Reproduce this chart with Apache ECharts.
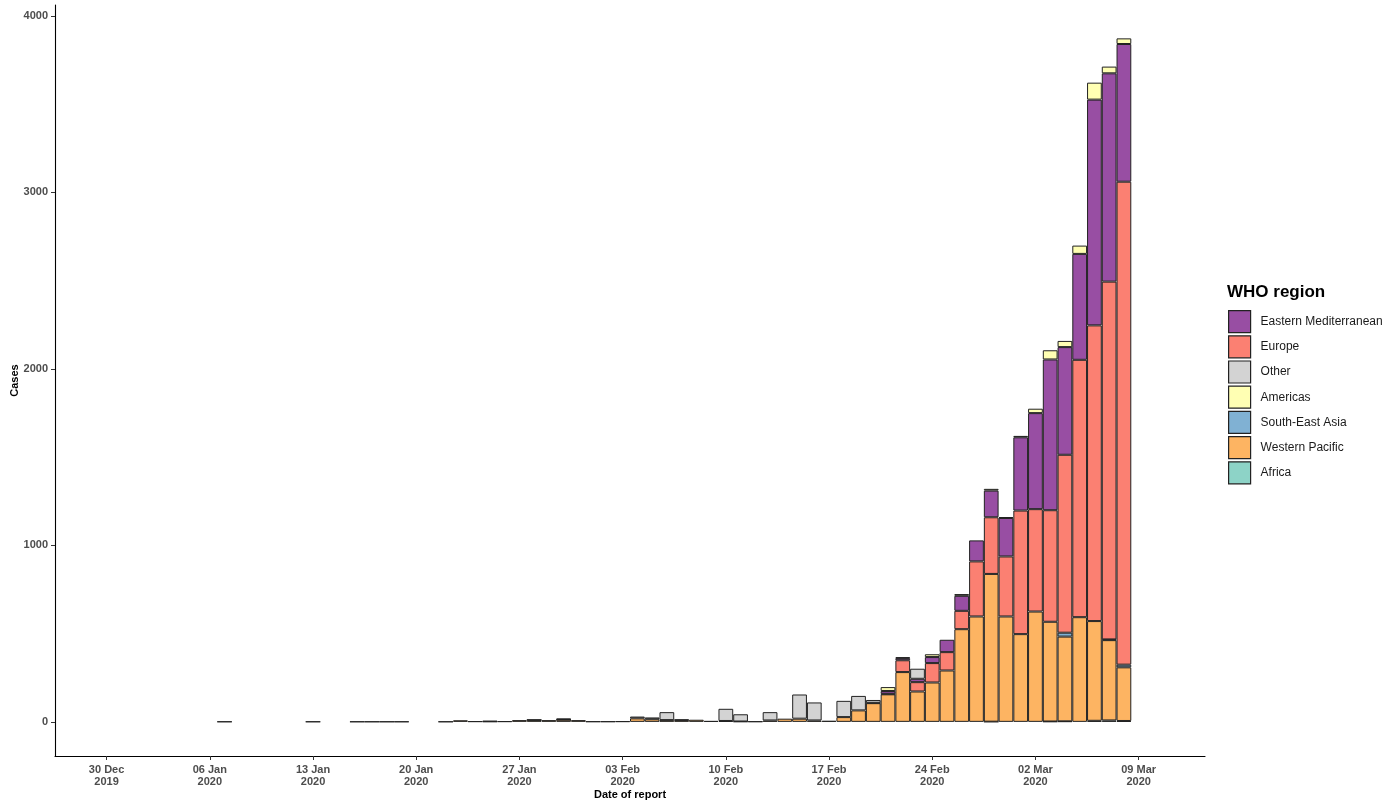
<!DOCTYPE html>
<html>
<head>
<meta charset="utf-8">
<script src="https://cdn.jsdelivr.net/npm/echarts@6/dist/echarts.min.js"></script>
<style>
html,body{margin:0;padding:0;background:#ffffff;}
#chart{width:1398px;height:800px;}
</style>
</head>
<body>
<div id="chart"></div>
<script>
// ---------- data ----------
const axisStartDate = '2019-12-27';   // first category on the x axis
const axisDayCount = 78;              // number of daily categories on the x axis
const firstTickDate = '2019-12-30';   // first labelled week
const firstDataDate = '2020-01-07';   // first day of the series arrays below

const tickLabels = ['30 Dec\n2019', '06 Jan\n2020', '13 Jan\n2020', '20 Jan\n2020', '27 Jan\n2020',
  '03 Feb\n2020', '10 Feb\n2020', '17 Feb\n2020', '24 Feb\n2020', '02 Mar\n2020', '09 Mar\n2020'];
const yTickValues = [0, 1000, 2000, 3000, 4000];

const legendOrder = ['Eastern Mediterranean', 'Europe', 'Other', 'Americas', 'South-East Asia', 'Western Pacific', 'Africa'];

// daily cases, 07 Jan 2020 .. 08 Mar 2020 (rows = weeks starting on Tuesday)
const westernPacific = [
  1, null, null, null, null, null, null,
  null, null, 1, 1, 1, 1, null,
  null, 1, 9, 3, 2, 3, 10,
  11, 10, 12, 10, 2, 2, 3,
  20, 15, 10, 10, 12, 5, 5,
  2, 2, 8, 18, 18, 8, 6,
  27, 65, 106, 156, 282, 172, 223,
  291, 525, 597, 837, 597, 497, 625,
  565, 480, 593, 565, 455, 304
];
const southEastAsia = [
  null, null, null, null, null, null, 1,
  null, null, null, null, null, null, null,
  null, null, null, null, null, null, null,
  null, null, 2, null, null, null, null,
  null, null, null, null, null, null, null,
  null, null, null, null, null, null, null,
  null, null, null, null, null, null, null,
  null, null, null, null, null, null, null,
  null, 22, null, null, 4, 15
];
const europe = [
  null, null, null, null, null, null, null,
  null, null, null, null, null, null, null,
  null, null, null, null, 3, null, null,
  1, null, 4, null, null, null, null,
  null, null, null, null, null, null, null,
  null, null, null, null, null, null, null,
  null, null, null, 3, 67, 53, 110,
  104, 104, 312, 321, 340, 700, 580,
  632, 1008, 1458, 1675, 2027, 2736
];
const easternMediterranean = [
  null, null, null, null, null, null, null,
  null, null, null, null, null, null, null,
  null, null, null, null, null, null, null,
  null, null, null, null, null, null, null,
  null, null, null, null, null, null, null,
  null, null, null, null, null, null, null,
  null, null, 2, 16, 12, 19, 34,
  70, 85, 119, 151, 218, 415, 544,
  854, 610, 600, 1279, 1180, 780
];
const other = [
  null, null, null, null, null, null, null,
  null, null, null, null, null, null, null,
  null, null, null, null, null, null, null,
  null, null, null, null, null, null, null,
  10, 10, 45, 3, null, null, 69,
  41, null, 47, null, 137, 102, null,
  92, 82, 16, null, null, 57, null,
  null, null, null, null, null, null, null,
  null, null, null, null, null, null
];
const americas = [
  null, null, null, null, null, null, null,
  null, null, null, null, null, null, null,
  null, null, null, null, null, null, null,
  null, null, null, null, null, null, null,
  null, null, null, null, null, null, null,
  null, null, null, null, null, null, null,
  null, null, null, 22, 5, null, 16,
  null, 10, null, 10, 5, 8, 25,
  52, 35, 47, 96, 38, 32
];
const africa = [
  null, null, null, null, null, null, null,
  null, null, null, null, null, null, null,
  null, null, null, null, null, null, null,
  null, null, null, null, null, null, null,
  null, null, null, null, null, null, null,
  null, null, null, null, null, null, null,
  null, null, null, null, null, null, null,
  null, null, null, 1, null, null, null,
  2, 3, null, 6, 8, 5
];

// ---------- build ----------
const DAY = 86400000;
const t0 = Date.parse(axisStartDate + 'T00:00:00Z');
const categories = [];
for (let k = 0; k < axisDayCount; k++) {
  categories.push(new Date(t0 + k * DAY).toISOString().slice(0, 10));
}
const dataOffset = Math.round((Date.parse(firstDataDate + 'T00:00:00Z') - t0) / DAY);
const tickOffset = Math.round((Date.parse(firstTickDate + 'T00:00:00Z') - t0) / DAY);

function pad(arr) {
  const out = new Array(axisDayCount).fill(null);
  arr.forEach((v, i) => { out[dataOffset + i] = v; });
  return out;
}
function isTick(index) {
  return index >= tickOffset && (index - tickOffset) % 7 === 0 && (index - tickOffset) / 7 < tickLabels.length;
}

const FONT = '"Liberation Sans", Arial, Helvetica, sans-serif';
const stackSeries = [
  ['Africa', africa, '#8DD3C7'],
  ['Western Pacific', westernPacific, '#FDB462'],
  ['South-East Asia', southEastAsia, '#80B1D3'],
  ['Europe', europe, '#FB8072'],
  ['Eastern Mediterranean', easternMediterranean, '#984EA3'],
  ['Other', other, '#D3D3D3'],
  ['Americas', americas, '#FFFFB3']
];

const chart = echarts.init(document.getElementById('chart'), null, {renderer: 'canvas'});
chart.setOption({
  animation: false,
  backgroundColor: '#ffffff',
  textStyle: {fontFamily: FONT},
  title: {
    text: 'WHO region',
    left: 1227,
    top: 284,
    padding: 0,
    textStyle: {fontFamily: FONT, fontSize: 17, fontWeight: 'bold', color: '#000'}
  },
  legend: {
    data: legendOrder,
    orient: 'vertical',
    left: 1228,
    top: 310,
    padding: 0,
    itemWidth: 22,
    itemHeight: 22,
    itemGap: 2,
    icon: 'rect',
    itemStyle: {borderColor: '#222', borderWidth: 1.2},
    textStyle: {fontFamily: FONT, fontSize: 12, color: '#1a1a1a', padding: [0, 0, 0, 5]},
    selectedMode: false
  },
  grid: {left: 55, right: 193, top: 5, bottom: 44, containLabel: false, outerBoundsMode: 'none'},
  xAxis: {
    type: 'category',
    data: categories,
    boundaryGap: true,
    name: 'Date of report',
    nameLocation: 'middle',
    nameGap: 33,
    nameMoveOverlap: false,
    nameTextStyle: {fontFamily: FONT, fontSize: 11, fontWeight: 'bold', color: '#000'},
    axisLine: {onZero: false, lineStyle: {color: '#000', width: 1.1}},
    axisTick: {show: true, alignWithLabel: true, interval: (i) => isTick(i), length: 4, lineStyle: {color: '#333', width: 1}},
    axisLabel: {
      interval: (i) => isTick(i),
      formatter: (v, i) => tickLabels[(i - tickOffset) / 7],
      fontFamily: FONT, fontSize: 11, fontWeight: 'bold', color: '#4d4d4d',
      lineHeight: 12, margin: 8, hideOverlap: false
    },
    splitLine: {show: false}
  },
  yAxis: {
    type: 'value',
    min: -193.4,
    max: 4061,
    name: 'Cases',
    nameLocation: 'middle',
    nameGap: 35,
    nameMoveOverlap: false,
    nameRotate: 90,
    nameTextStyle: {fontFamily: FONT, fontSize: 11, fontWeight: 'bold', color: '#000'},
    axisLine: {show: true, lineStyle: {color: '#000', width: 1.1}},
    axisTick: {show: true, length: 4, customValues: yTickValues, lineStyle: {color: '#333', width: 1}},
    axisLabel: {customValues: yTickValues, formatter: (v) => String(v), fontFamily: FONT, fontSize: 11, fontWeight: 'bold', color: '#4d4d4d', margin: 7},
    splitLine: {show: false}
  },
  series: stackSeries.map(([name, values, color]) => ({
    name: name,
    type: 'bar',
    stack: 'cases',
    data: pad(values),
    barCategoryGap: '0%',
    barGap: '0%',
    itemStyle: {color: color, borderColor: '#222', borderWidth: 1},
    emphasis: {disabled: true}
  }))
});
</script>
</body>
</html>
